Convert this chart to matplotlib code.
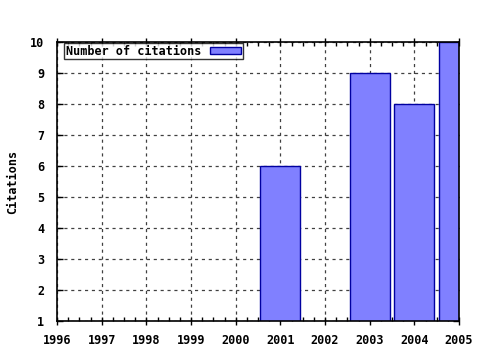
import matplotlib
matplotlib.use("Agg")
import matplotlib.pyplot as plt
from matplotlib.ticker import MultipleLocator

years = [2001, 2003, 2004, 2005]
citations = [6, 9, 8, 10]
year_ticks = list(range(1996, 2006))
cit_ticks = list(range(1, 11))
series_label = "Number of citations"
y_label = "Citations"

mono = ["DejaVu Sans Mono"]

fig = plt.figure(figsize=(4.8, 3.5), dpi=100)
ax = fig.add_axes([57/480, 29/350, 402/480, 279/350])

ax.bar(years, citations, width=0.9, bottom=0, color="#8080ff",
       edgecolor="#0000a0", linewidth=1.0, label=series_label, zorder=3)

ax.set_xlim(1996, 2005)
ax.set_ylim(1, 10)
ax.set_xticks(year_ticks)
ax.set_yticks(cit_ticks)
ax.xaxis.set_minor_locator(MultipleLocator(0.25))
ax.set_xticklabels([str(y) for y in year_ticks], fontfamily=mono,
                   fontweight="bold", fontsize=8.5)
ax.set_yticklabels([str(c) for c in cit_ticks], fontfamily=mono,
                   fontweight="bold", fontsize=8.5)
ax.tick_params(axis="x", which="major", direction="inout", length=6,
               width=1, top=True, pad=6)
ax.tick_params(axis="y", which="major", direction="in", length=4,
               width=1, right=True, pad=9)
ax.tick_params(axis="x", which="minor", direction="in", length=3,
               width=1, top=True)
ax.grid(True, which="major", linestyle=(0, (2.5, 3)), color="#404040",
        linewidth=0.9, zorder=0)
ax.set_axisbelow(True)
for s in ax.spines.values():
    s.set_linewidth(1.2)
    s.set_color("black")
    s.set_zorder(4)

ax.set_ylabel(y_label, fontfamily=mono, fontweight="bold", fontsize=8.5)
ax.yaxis.set_label_coords(-0.095, 0.5)

leg = ax.legend(loc="upper left", bbox_to_anchor=(0.017, 0.997),
                markerfirst=False, frameon=True, fancybox=False,
                borderpad=0.15, handlelength=2.6, handleheight=0.6,
                handletextpad=0.8, borderaxespad=0.0,
                prop={"family": mono, "weight": "bold", "size": 8.5})
leg.get_frame().set_edgecolor("black")
leg.get_frame().set_linewidth(1.0)
leg.set_zorder(5)

fig.savefig("out.png", dpi=100)
